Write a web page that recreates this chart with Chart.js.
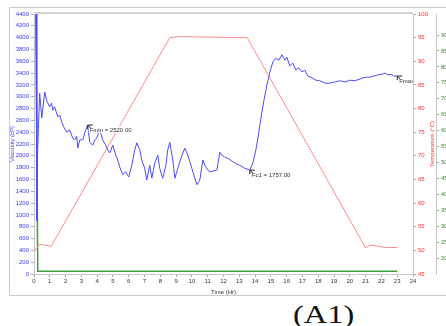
<!DOCTYPE html>
<html>
<head>
<meta charset="utf-8">
<script src="https://cdn.jsdelivr.net/npm/chart.js@4.4.0/dist/chart.umd.min.js"></script>
<style>
  body { margin: 0; background: #fff; overflow: hidden; width: 446px; height: 326px; }
  #frame { position: absolute; left: 9px; top: 7px; width: 470px; height: 287px; border: 1px solid #c6cdd9; }
  #wrap { position: absolute; left: 0; top: 0; width: 480px; height: 300px; }
  #tag { position: absolute; left: 293px; top: 302px; font: 26px "Liberation Serif", "Times New Roman", serif; line-height: 26px; transform: scaleX(1.25); transform-origin: left top; color: #111; }
</style>
</head>
<body>
<div id="frame"></div>
<div id="wrap"><canvas id="chart" width="480" height="300"></canvas></div>
<div id="tag">(A1)</div>
<script>
// viscosity (cP) vs time (Hr)
var viscTime = [0.14,0.18,0.23,0.36,0.49,0.68,0.80,0.99,1.12,1.19,1.31,1.50,1.63,1.76,1.88,2.07,2.26,2.45,2.58,2.71,2.77,2.90,3.09,3.28,3.40,3.53,3.72,3.85,3.97,4.16,4.35,4.54,4.67,4.80,4.99,5.18,5.30,5.43,5.62,5.81,6.00,6.19,6.38,6.51,6.70,6.82,7.01,7.14,7.33,7.46,7.65,7.84,7.96,8.15,8.35,8.47,8.60,8.79,8.92,9.11,9.30,9.55,9.74,9.87,10.06,10.31,10.50,10.69,10.82,11.01,11.13,11.32,11.58,11.77,11.89,12.08,12.34,12.59,12.84,13.10,13.35,13.67,13.86,14.05,14.18,14.37,14.56,14.75,14.94,15.13,15.32,15.51,15.70,15.89,16.01,16.20,16.39,16.58,16.77,16.96,17.15,17.34,17.60,17.85,18.10,18.42,18.74,19.06,19.37,19.69,20.01,20.32,20.64,20.83,21.08,21.27,21.52,21.78,22.03,22.22,22.41,22.60,22.79,23.00];
var viscValues = [4400,900,2100,3060,2640,3080,2940,2830,2890,2770,2830,2660,2690,2570,2490,2400,2440,2300,2270,2330,2130,2270,2270,2440,2520,2230,2180,2270,2300,2440,2270,2180,2100,2050,2180,2010,1930,1810,1680,1730,1640,1840,2100,2220,2100,1930,1790,1590,1840,1620,1880,2010,1790,1620,1840,2100,2230,1930,1620,1790,1960,2130,2010,1900,1730,1510,1590,1930,1840,1760,1730,1740,1760,2060,2010,1980,1950,1900,1860,1830,1790,1757,1880,2100,2300,2640,2940,3200,3420,3590,3650,3620,3710,3620,3670,3520,3570,3450,3490,3420,3450,3350,3320,3280,3270,3230,3230,3250,3270,3250,3280,3270,3300,3320,3330,3330,3350,3370,3380,3400,3370,3380,3350,3350];

// temperature (°C)
var tempTime = [0, 0.35, 0.8, 1.1, 8.6, 9.2, 13.5, 21.0, 21.3, 21.8, 22.2, 23.0];
var tempValues = [49.7, 51.3, 51.0, 50.9, 95.0, 95.2, 95.0, 50.5, 51.1, 50.9, 50.6, 50.6];

// third channel (green, right outer axis)
var greenTime = [0.11, 0.24, 23.0];
var greenValues = [96.3, 15.9, 15.9];

// markers written on the curve
var markTime = [3.40, 13.67, 23.0];
var markValues = [2520, 1757, 3350];
var markLabels = ['Fmin = 2520.00', 'Fc1 = 1757.00', 'Fmax = 3400.00'];

function pts(xs, ys) {
    var out = [];
    for (var i = 0; i < xs.length; i++) out.push({x: xs[i], y: ys[i]});
    return out;
}

var smallFont = {family: 'Liberation Sans, Arial, sans-serif', size: 6};

var extras = {
    id: 'extras',
    beforeDatasetsDraw: function(chart) {
        var a = chart.chartArea, ctx = chart.ctx;
        ctx.save();
        ctx.strokeStyle = '#d2d2d2';
        ctx.lineWidth = 2;
        ctx.beginPath();
        ctx.moveTo(a.left, a.top - 1);
        ctx.lineTo(a.right, a.top - 1);
        ctx.stroke();
        ctx.restore();
    },
    afterDatasetsDraw: function(chart) {
        var a = chart.chartArea, ctx = chart.ctx;
        var sx = chart.scales.x, sy = chart.scales.yVisc;
        ctx.save();
        ctx.beginPath();
        ctx.rect(a.left, a.top, a.right - a.left, a.bottom - a.top);
        ctx.clip();
        ctx.font = '6px Liberation Sans, Arial, sans-serif';
        ctx.textBaseline = 'middle';
        for (var i = 0; i < markTime.length; i++) {
            var px = sx.getPixelForValue(markTime[i]);
            var py = sy.getPixelForValue(markValues[i]);
            var w = ctx.measureText(markLabels[i]).width;
            ctx.fillStyle = 'rgba(255,255,255,0.85)';
            ctx.fillRect(px + 1, py + 1, w + 3, 7);
            ctx.strokeStyle = '#222';
            ctx.lineWidth = 1;
            ctx.beginPath();
            ctx.moveTo(px, py + 4); ctx.lineTo(px, py); ctx.lineTo(px + 5, py);
            ctx.moveTo(px, py); ctx.lineTo(px + 3, py + 3);
            ctx.stroke();
            ctx.fillStyle = '#333';
            ctx.fillText(markLabels[i], px + 2, py + 5);
        }
        ctx.restore();

        // right temperature axis title, read bottom to top
        var r = chart.scales.yTemp;
        ctx.save();
        ctx.translate(r.right - 4, (a.top + a.bottom) / 2);
        ctx.rotate(-Math.PI / 2);
        ctx.font = '6px Liberation Sans, Arial, sans-serif';
        ctx.fillStyle = '#ff3030';
        ctx.textAlign = 'center';
        ctx.textBaseline = 'middle';
        ctx.fillText('Temperature (°C)', 0, 0);
        ctx.restore();
    }
};

new Chart(document.getElementById('chart'), {
    type: 'line',
    data: {
        datasets: [
            {
                label: 'Viscosity',
                data: pts(viscTime, viscValues),
                yAxisID: 'yVisc',
                borderColor: '#4b4bff',
                borderWidth: 1,
                pointRadius: 0,
                tension: 0
            },
            {
                label: 'Temperature',
                data: pts(tempTime, tempValues),
                yAxisID: 'yTemp',
                borderColor: '#ff8a8a',
                borderWidth: 1,
                pointRadius: 0,
                tension: 0
            },
            {
                label: 'Green',
                data: pts(greenTime, greenValues),
                yAxisID: 'yGreen',
                borderColor: '#3ca03c',
                borderWidth: 1.5,
                pointRadius: 0,
                tension: 0
            }
        ]
    },
    options: {
        responsive: false,
        animation: false,
        devicePixelRatio: 1,
        layout: {padding: {left: 9, right: 14, top: 14, bottom: 4}},
        plugins: {legend: {display: false}, tooltip: {enabled: false}},
        scales: {
            x: {
                type: 'linear',
                min: 0, max: 24,
                afterFit: function(s) { s.height = 22; },
                ticks: {stepSize: 1, font: smallFont, color: '#333', padding: 1, maxRotation: 0, autoSkip: false},
                grid: {drawOnChartArea: false, tickLength: 3, color: '#aaa'},
                border: {color: '#c8c8c8'},
                title: {display: true, text: 'Time (Hr)', font: smallFont, color: '#333', padding: {top: 0, bottom: 0}}
            },
            yVisc: {
                position: 'left',
                min: 0, max: 4400,
                afterFit: function(s) { s.width = 25; },
                ticks: {stepSize: 200, font: smallFont, color: '#3a3aff', padding: 2, callback: function(v) { return v; }},
                grid: {drawOnChartArea: false, tickLength: 3, color: '#aaa'},
                border: {color: '#c8c8c8'},
                title: {display: true, text: 'Viscosity (cP)', font: smallFont, color: '#3a3aff', padding: {top: 0, bottom: 0}}
            },
            yTemp: {
                position: 'right',
                min: 45, max: 100,
                afterFit: function(s) { s.width = 23; },
                ticks: {stepSize: 5, font: smallFont, color: '#ff3030', padding: 2},
                grid: {drawOnChartArea: false, tickLength: 3, color: '#aaa'},
                border: {color: '#c8c8c8'}
            },
            yGreen: {
                position: 'right',
                min: 15, max: 96.6,
                afterFit: function(s) { s.width = 30; },
                afterBuildTicks: function(s) {
                    s.ticks = s.ticks.filter(function(t) { return t.value >= 20 && t.value % 5 === 0; });
                },
                ticks: {stepSize: 5, font: smallFont, color: '#2f8f2f', padding: 2},
                grid: {drawOnChartArea: false, tickLength: 3, color: '#aaa'},
                border: {color: '#c8c8c8'}
            }
        }
    },
    plugins: [extras]
});
</script>
</body>
</html>
